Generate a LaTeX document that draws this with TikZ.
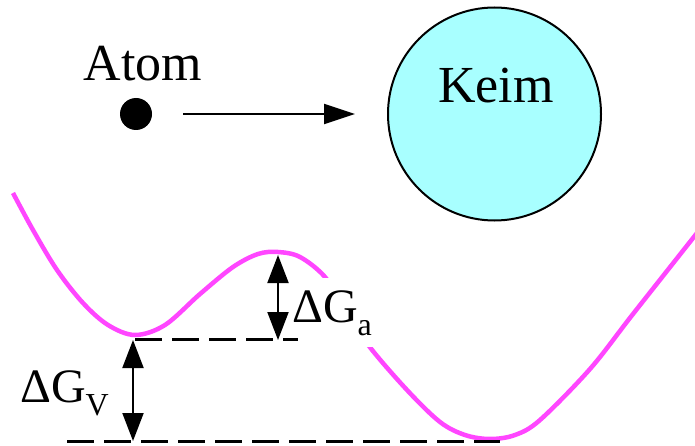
\documentclass[tikz,border=0pt]{standalone}
\usepackage{fontspec}
\setmainfont{Liberation Serif}
\usetikzlibrary{arrows.meta}
\definecolor{keimcyan}{RGB}{168,255,255}
\definecolor{curvemag}{RGB}{255,70,255}
\tikzset{
  bigtext/.style={font=\fontsize{52}{56}\selectfont, inner sep=0pt},
  dgtext/.style={font=\fontsize{48}{52}\selectfont, inner sep=0pt},
  levelline/.style={line width=3pt, dash pattern=on 27pt off 10pt},
  dblarrow/.style={line width=2pt, {Triangle[length=28pt,width=21pt]}-{Triangle[length=28pt,width=21pt]}},
  energy/.style={curvemag, line width=4.5pt}
}
\begin{document}
\begin{tikzpicture}[x=1pt,y=-1pt]
\useasboundingbox (0,0) rectangle (695,446);
% top part
\node[bigtext, anchor=base] (atomlabel) at (143,81) {Atom};
\node[circle, fill=black, minimum size=32pt, inner sep=0pt] (dot) at (136,114) {};
\node[circle, draw=black, line width=2pt, fill=keimcyan, minimum size=213pt, inner sep=0pt] (keim) at (494.5,114) {};
\node[bigtext, anchor=base] (keimlabel) at (496,103) {Keim};
\draw[line width=2pt, -{Triangle[length=31pt,width=20pt]}] ([xshift=31pt]dot.east) -- ([xshift=-32pt]keim.west);
% energy curve
\draw[energy] plot[smooth, tension=0.55] coordinates {
 (13,193) (33,230) (57,270) (83,303) (108,325) (135,335) (165,325) (200,294)
 (233,267) (258,254) (278,252) (300,257) (325,277) (347,311) (369,346)
 (407,390) (440,422) (465,435) (490,439) (515,435) (540,420) (590,369)
 (633,314) (697,233)};
% label Delta G_a with white background
\node[dgtext, fill=white, anchor=base west, inner xsep=4pt, inner ysep=12pt, text height=32pt, text depth=13pt] (ga) at (288,322)
  {ΔG\raisebox{-13pt}{\fontsize{32}{34}\selectfont a}};
\node[dgtext, anchor=base west] (gv) at (20,402)
  {ΔG\raisebox{-13pt}{\fontsize{32}{34}\selectfont V}};
% level lines
\coordinate (u1) at (135,339);
\coordinate (u2) at (298,339);
\coordinate (l1) at (67,441);
\coordinate (l2) at (500,441);
\draw[levelline] (u1) -- (u2);
\draw[levelline] (l1) -- (l2);
% arrows
\coordinate (gvtop) at (133,340);
\coordinate (gvbot) at (133,441);
\coordinate (gatop) at (278,255);
\coordinate (gabot) at (278,340);
\draw[dblarrow] (gvtop) -- (gvbot);
\draw[dblarrow] (gatop) -- (gabot);
\end{tikzpicture}
\end{document}
